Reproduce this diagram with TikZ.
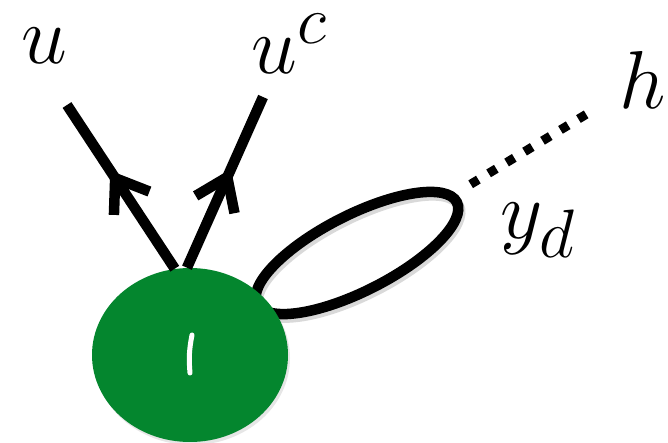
\documentclass[tikz,border=0pt]{standalone}
\usepackage{tikz}
\usetikzlibrary{arrows.meta,positioning,calc,shapes.geometric,decorations.markings,shadows}
\definecolor{vertgreen}{RGB}{4,134,46}

\begin{document}
\begin{tikzpicture}[
  big/.style={font=\Huge, scale=1.88, inner sep=0pt},
  thickline/.style={line width=0.21cm},
  midarrow/.style={thickline, decoration={markings,
      mark=at position #1 with {\arrow{Straight Barb[length=6mm, width=8.5mm]}}},
    postaction=decorate}
]
  \useasboundingbox (0,0) rectangle (13.36,8.86);

  % self-loop (behind the vertex)
  \node[ellipse, draw, thickline, rotate=27, inner sep=0pt,
        minimum width=4.48cm, minimum height=1.52cm,
        preaction={draw=black!15, transform canvas={xshift=0.4mm, yshift=-0.7mm}}]
    (loop) at (7.14,3.80) {};

  % the vertex
  \node[ellipse, fill=vertgreen, minimum width=3.92cm, minimum height=3.48cm,
        drop shadow={opacity=0.2, shadow xshift=0.4mm, shadow yshift=-0.6mm}]
    (v) at (3.8,1.76) {};
  \draw[white, line width=1mm, line cap=round]
    ($(v)+(0.04,0.4)$) to[bend right=8] ($(v)+(0,-0.36)$);

  % labels
  \node[big] (u) at (0.88,7.94) {$u$};
  \node[big] (uc) at (5.8,7.98) {$u^c$};
  \node[big] (h) at (12.86,7.26) {$h$};
  \node[big] (yd) at (10.76,4.26) {$y_d$};

  \coordinate (ut) at (1.34,6.76);
  \coordinate (uct) at (5.26,6.92);

  % outgoing legs
  \draw[midarrow=0.6] (v.100) -- (ut);
  \draw[midarrow=0.58] (v.92) -- (uct);

  % dotted leg to h
  \draw[line width=0.18cm, dash pattern=on 0.18cm off 0.24cm,
        shorten <=0.35cm, shorten >=0.7cm] (loop) -- (h);
\end{tikzpicture}
\end{document}
